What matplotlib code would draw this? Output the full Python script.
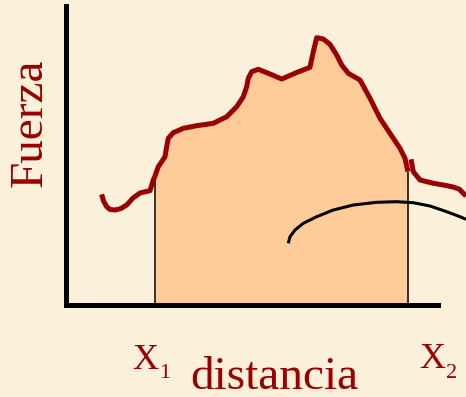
import numpy as np
import matplotlib.pyplot as plt

# Curva fuerza-distancia (tramo izquierdo, hasta x2)
dist = np.array([36.2, 38.0, 41.2, 44.5, 49.5, 55.5, 61.2, 67.5, 74.5, 84.5,
                 87.8, 89.5, 92.8, 99.5, 101.2, 102.8, 107.8, 117.8, 131.2, 147.8,
                 161.2, 171.2, 177.8, 181.2, 182.8, 186.2, 192.8, 202.8, 216.2, 231.2,
                 244.5, 247.8, 251.2, 257.8, 264.5, 271.2, 276.2, 282.8, 294.5, 304.5,
                 314.5, 324.5, 334.5, 339.5, 342.5])
fuerza = np.array([110.7, 104.0, 98.3, 95.5, 95.0, 96.5, 100.0, 107.0, 112.0, 114.3,
                   125.0, 129.0, 138.3, 148.3, 158.3, 166.7, 172.3, 176.7, 179.3, 181.7,
                   188.3, 198.3, 208.3, 218.3, 226.7, 233.3, 235.7, 231.7, 226.0, 232.5,
                   237.7, 253.3, 267.3, 266.0, 260.7, 250.0, 240.0, 231.7, 225.0, 206.7,
                   186.7, 171.7, 156.7, 146.7, 133.3])

# tramo derecho, despues de x2
dist_der = np.array([345.5, 347.8, 354.5, 367.8, 380.5, 387.5, 393.5, 400.5])
fuerza_der = np.array([145.7, 133.3, 125.0, 121.7, 119.5, 118.0, 116.0, 109.0])

# arco negro
arco_x = np.array([222.8, 224.5, 229.5, 237.8, 251.2, 267.8, 287.8, 311.2,
                   331.2, 347.8, 364.5, 381.2, 394.5, 400.5])
arco_y = np.array([61.7, 68.3, 75.0, 81.7, 88.3, 95.0, 100.0, 102.7,
                   103.3, 102.3, 99.0, 93.3, 88.3, 85.7])

x1, x2 = 89.5, 342.5

rojo = '#990000'
fondo = '#FBF1DA'
relleno = '#FFCC99'

fig = plt.figure(figsize=(4.66, 3.97), dpi=100, facecolor=fondo)
ax = fig.add_axes([65.5 / 466, 92 / 397, 372.5 / 466, 299 / 397])
ax.set_facecolor('none')
ax.set_xlim(0, 372.5)
ax.set_ylim(0, 299)

# area bajo la curva entre x1 y x2
mask = (dist >= x1) & (dist <= x2)
ax.fill_between(dist, 0, fuerza, where=mask, color=relleno, lw=0, zorder=1)

# lineas verticales en x1 y x2
f1 = fuerza[dist == x1][0]
f2 = fuerza[dist == x2][0]
ax.vlines([x1, x2], 0, [f1, f2], colors='black', lw=1.1, zorder=2)

ax.plot(dist, fuerza, color=rojo, lw=3.6, solid_joinstyle='round',
        solid_capstyle='butt', clip_on=False, zorder=3)
ax.plot(dist_der, fuerza_der, color=rojo, lw=3.6, solid_joinstyle='round',
        solid_capstyle='butt', clip_on=False, zorder=3)
ax.plot(arco_x, arco_y, color='black', lw=2.2, solid_joinstyle='round',
        solid_capstyle='butt', clip_on=False, zorder=4)

for s in ['top', 'right']:
    ax.spines[s].set_visible(False)
for s in ['left', 'bottom']:
    ax.spines[s].set_linewidth(3.6)
    ax.spines[s].set_color('black')
ax.set_xticks([])
ax.set_yticks([])

serif = 'Liberation Serif'
fig.text(30 / 466, 1 - 123 / 397, 'Fuerza', rotation=90, ha='center', va='center',
         fontsize=34, color=rojo, family=serif)
fig.text(274 / 466, 1 - 389 / 397, 'distancia', ha='center', va='baseline',
         fontsize=34, color=rojo, family=serif)

fig.text(132 / 466, 1 - 369 / 397, 'X', ha='left', va='baseline',
         fontsize=26, color=rojo, family=serif)
fig.text(159 / 466, 1 - 378 / 397, '1', ha='left', va='baseline',
         fontsize=16, color=rojo, family=serif)
fig.text(419 / 466, 1 - 368 / 397, 'X', ha='left', va='baseline',
         fontsize=26, color=rojo, family=serif)
fig.text(446 / 466, 1 - 378 / 397, '2', ha='left', va='baseline',
         fontsize=16, color=rojo, family=serif)

fig.savefig('out.png', dpi=100, facecolor=fondo)
